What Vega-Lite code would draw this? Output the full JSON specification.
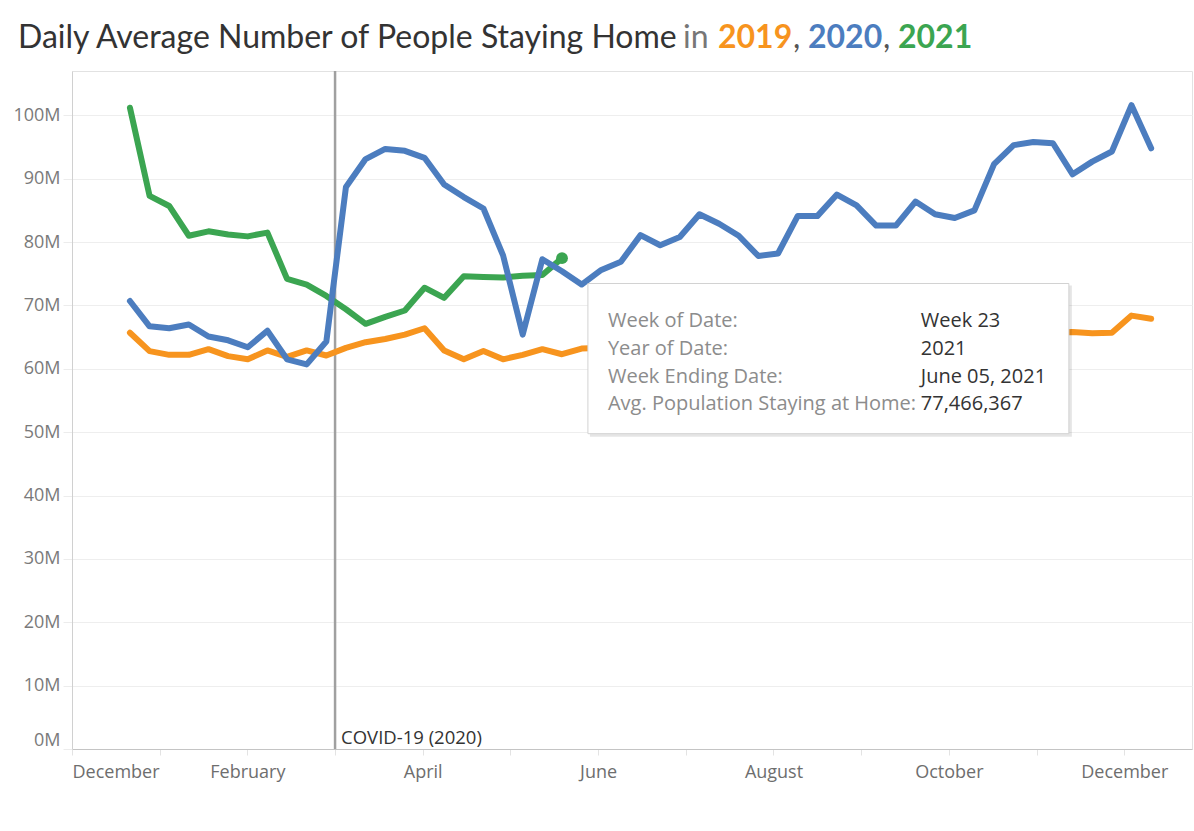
{
  "$schema": "https://vega.github.io/schema/vega-lite/v6.json",
  "background": "white",
  "padding": {"left": 12, "top": 22, "right": 0, "bottom": 0},
  "config": {
    "view": {"stroke": null},
    "font": "Open Sans",
    "title": {"anchor": "start", "offset": 0, "fontSize": 32, "font": "Lato"}
  },
  "datasets": {
    "weekly": [
      {"year": 2021, "week": 1, "avg_home_millions": 101.2},
      {"year": 2021, "week": 2, "avg_home_millions": 87.3},
      {"year": 2021, "week": 3, "avg_home_millions": 85.7},
      {"year": 2021, "week": 4, "avg_home_millions": 81.0},
      {"year": 2021, "week": 5, "avg_home_millions": 81.7},
      {"year": 2021, "week": 6, "avg_home_millions": 81.2},
      {"year": 2021, "week": 7, "avg_home_millions": 80.9},
      {"year": 2021, "week": 8, "avg_home_millions": 81.5},
      {"year": 2021, "week": 9, "avg_home_millions": 74.2},
      {"year": 2021, "week": 10, "avg_home_millions": 73.3},
      {"year": 2021, "week": 11, "avg_home_millions": 71.5},
      {"year": 2021, "week": 12, "avg_home_millions": 69.4},
      {"year": 2021, "week": 13, "avg_home_millions": 67.1},
      {"year": 2021, "week": 14, "avg_home_millions": 68.2},
      {"year": 2021, "week": 15, "avg_home_millions": 69.2},
      {"year": 2021, "week": 16, "avg_home_millions": 72.8},
      {"year": 2021, "week": 17, "avg_home_millions": 71.2},
      {"year": 2021, "week": 18, "avg_home_millions": 74.6},
      {"year": 2021, "week": 19, "avg_home_millions": 74.5},
      {"year": 2021, "week": 20, "avg_home_millions": 74.4},
      {"year": 2021, "week": 21, "avg_home_millions": 74.7},
      {"year": 2021, "week": 22, "avg_home_millions": 74.8},
      {"year": 2021, "week": 23, "avg_home_millions": 77.466367},
      {"year": 2019, "week": 1, "avg_home_millions": 65.7},
      {"year": 2019, "week": 2, "avg_home_millions": 62.8},
      {"year": 2019, "week": 3, "avg_home_millions": 62.2},
      {"year": 2019, "week": 4, "avg_home_millions": 62.2},
      {"year": 2019, "week": 5, "avg_home_millions": 63.1},
      {"year": 2019, "week": 6, "avg_home_millions": 62.0},
      {"year": 2019, "week": 7, "avg_home_millions": 61.5},
      {"year": 2019, "week": 8, "avg_home_millions": 62.9},
      {"year": 2019, "week": 9, "avg_home_millions": 61.9},
      {"year": 2019, "week": 10, "avg_home_millions": 62.9},
      {"year": 2019, "week": 11, "avg_home_millions": 62.1},
      {"year": 2019, "week": 12, "avg_home_millions": 63.3},
      {"year": 2019, "week": 13, "avg_home_millions": 64.2},
      {"year": 2019, "week": 14, "avg_home_millions": 64.7},
      {"year": 2019, "week": 15, "avg_home_millions": 65.4},
      {"year": 2019, "week": 16, "avg_home_millions": 66.4},
      {"year": 2019, "week": 17, "avg_home_millions": 62.9},
      {"year": 2019, "week": 18, "avg_home_millions": 61.5},
      {"year": 2019, "week": 19, "avg_home_millions": 62.8},
      {"year": 2019, "week": 20, "avg_home_millions": 61.5},
      {"year": 2019, "week": 21, "avg_home_millions": 62.2},
      {"year": 2019, "week": 22, "avg_home_millions": 63.1},
      {"year": 2019, "week": 23, "avg_home_millions": 62.3},
      {"year": 2019, "week": 24, "avg_home_millions": 63.2},
      {"year": 2019, "week": 49, "avg_home_millions": 65.8},
      {"year": 2019, "week": 50, "avg_home_millions": 65.6},
      {"year": 2019, "week": 51, "avg_home_millions": 65.7},
      {"year": 2019, "week": 52, "avg_home_millions": 68.4},
      {"year": 2019, "week": 53, "avg_home_millions": 67.9},
      {"year": 2020, "week": 1, "avg_home_millions": 70.7},
      {"year": 2020, "week": 2, "avg_home_millions": 66.7},
      {"year": 2020, "week": 3, "avg_home_millions": 66.4},
      {"year": 2020, "week": 4, "avg_home_millions": 67.0},
      {"year": 2020, "week": 5, "avg_home_millions": 65.1},
      {"year": 2020, "week": 6, "avg_home_millions": 64.5},
      {"year": 2020, "week": 7, "avg_home_millions": 63.4},
      {"year": 2020, "week": 8, "avg_home_millions": 66.0},
      {"year": 2020, "week": 9, "avg_home_millions": 61.5},
      {"year": 2020, "week": 10, "avg_home_millions": 60.7},
      {"year": 2020, "week": 11, "avg_home_millions": 64.3},
      {"year": 2020, "week": 12, "avg_home_millions": 88.7},
      {"year": 2020, "week": 13, "avg_home_millions": 93.1},
      {"year": 2020, "week": 14, "avg_home_millions": 94.7},
      {"year": 2020, "week": 15, "avg_home_millions": 94.4},
      {"year": 2020, "week": 16, "avg_home_millions": 93.3},
      {"year": 2020, "week": 17, "avg_home_millions": 89.1},
      {"year": 2020, "week": 18, "avg_home_millions": 87.1},
      {"year": 2020, "week": 19, "avg_home_millions": 85.3},
      {"year": 2020, "week": 20, "avg_home_millions": 77.9},
      {"year": 2020, "week": 21, "avg_home_millions": 65.4},
      {"year": 2020, "week": 22, "avg_home_millions": 77.3},
      {"year": 2020, "week": 23, "avg_home_millions": 75.4},
      {"year": 2020, "week": 24, "avg_home_millions": 73.3},
      {"year": 2020, "week": 25, "avg_home_millions": 75.6},
      {"year": 2020, "week": 26, "avg_home_millions": 76.9},
      {"year": 2020, "week": 27, "avg_home_millions": 81.1},
      {"year": 2020, "week": 28, "avg_home_millions": 79.5},
      {"year": 2020, "week": 29, "avg_home_millions": 80.8},
      {"year": 2020, "week": 30, "avg_home_millions": 84.4},
      {"year": 2020, "week": 31, "avg_home_millions": 82.9},
      {"year": 2020, "week": 32, "avg_home_millions": 81.0},
      {"year": 2020, "week": 33, "avg_home_millions": 77.8},
      {"year": 2020, "week": 34, "avg_home_millions": 78.2},
      {"year": 2020, "week": 35, "avg_home_millions": 84.1},
      {"year": 2020, "week": 36, "avg_home_millions": 84.1},
      {"year": 2020, "week": 37, "avg_home_millions": 87.5},
      {"year": 2020, "week": 38, "avg_home_millions": 85.8},
      {"year": 2020, "week": 39, "avg_home_millions": 82.6},
      {"year": 2020, "week": 40, "avg_home_millions": 82.6},
      {"year": 2020, "week": 41, "avg_home_millions": 86.4},
      {"year": 2020, "week": 42, "avg_home_millions": 84.4},
      {"year": 2020, "week": 43, "avg_home_millions": 83.8},
      {"year": 2020, "week": 44, "avg_home_millions": 85.0},
      {"year": 2020, "week": 45, "avg_home_millions": 92.3},
      {"year": 2020, "week": 46, "avg_home_millions": 95.3},
      {"year": 2020, "week": 47, "avg_home_millions": 95.8},
      {"year": 2020, "week": 48, "avg_home_millions": 95.6},
      {"year": 2020, "week": 49, "avg_home_millions": 90.7},
      {"year": 2020, "week": 50, "avg_home_millions": 92.7},
      {"year": 2020, "week": 51, "avg_home_millions": 94.3},
      {"year": 2020, "week": 52, "avg_home_millions": 101.6},
      {"year": 2020, "week": 53, "avg_home_millions": 94.8}
    ]
  },
  "spacing": 9,
  "vconcat": [
    {
      "spacing": 0,
      "hconcat": [
        {"width": 1, "height": 1, "data": {"values": []}, "mark": "point",
         "title": {"text": "Daily Average Number of People Staying Home", "color": "#333333", "fontWeight": "normal", "dx": -54}},
        {"width": 1, "height": 1, "data": {"values": []}, "mark": "point",
         "title": {"text": "in", "color": "#777777", "fontWeight": "normal", "dx": 3}},
        {"width": 1, "height": 1, "data": {"values": []}, "mark": "point",
         "title": {"text": "2019", "color": "#F7941E", "fontWeight": "bold", "dx": 9}},
        {"width": 1, "height": 1, "data": {"values": []}, "mark": "point",
         "title": {"text": ",", "color": "#555555", "fontWeight": "normal"}},
        {"width": 1, "height": 1, "data": {"values": []}, "mark": "point",
         "title": {"text": "2020", "color": "#4C7DBF", "fontWeight": "bold", "dx": 7}},
        {"width": 1, "height": 1, "data": {"values": []}, "mark": "point",
         "title": {"text": ",", "color": "#555555", "fontWeight": "normal"}},
        {"width": 1, "height": 1, "data": {"values": []}, "mark": "point",
         "title": {"text": "2021", "color": "#3BA551", "fontWeight": "bold", "dx": 7}}
      ]
    },
    {
      "width": 1120,
      "height": 678,
      "view": {"stroke": "#e2e2e2"},
      "data": {"name": "weekly"},
      "layer": [
        {
          "data": {"values": [{}]},
          "mark": {"type": "rule", "color": "#a0a0a0", "strokeWidth": 2.5},
          "encoding": {"x": {"datum": 11.445, "type": "quantitative"}}
        },
        {
          "data": {"values": [{}]},
          "mark": {"type": "text", "align": "left", "baseline": "bottom", "dx": 6, "dy": -1, "fontSize": 18.5, "color": "#333333", "font": "Open Sans"},
          "encoding": {
            "x": {"datum": 11.445, "type": "quantitative"},
            "y": {"datum": 0, "type": "quantitative"},
            "text": {"value": "COVID-19 (2020)"}
          }
        },
        {
          "mark": {"type": "line", "strokeWidth": 6, "strokeCap": "round", "strokeJoin": "round"},
          "encoding": {
            "x": {
              "field": "week", "type": "quantitative",
              "scale": {"domain": [-1.95, 55.08], "nice": false, "zero": false},
              "axis": {
                "title": null, "grid": false,
                "values": [-1.95, 2.515, 6.98, 11.445, 15.91, 20.375, 24.84, 29.305, 33.77, 38.235, 42.7, 47.165, 51.63],
                "labelExpr": "['December','','February','','April','','June','','August','','October','','December'][round((datum.value + 1.95) / 4.465)]",
                "labelFlush": true, "labelOverlap": false, "labelColor": "#6e6e6e", "labelFontSize": 18, "labelFont": "Open Sans",
                "labelPadding": 8, "tickColor": "#e3e3e3", "tickSize": 6, "domainColor": "#c4c4c4"
              }
            },
            "y": {
              "field": "avg_home_millions", "type": "quantitative",
              "scale": {"domain": [0, 107], "nice": false},
              "axis": {
                "title": null, "values": [0, 10, 20, 30, 40, 50, 60, 70, 80, 90, 100],
                "labelExpr": "datum.value + 'M'", "labelFlush": true, "labelFlushOffset": 0,
                "labelColor": "#7a7a7a", "labelFontSize": 18, "labelFont": "Open Sans", "labelPadding": 3,
                "tickColor": "#ececec", "tickSize": 9, "domainColor": "#d0d0d0",
                "grid": true, "gridColor": "#eeeeee"
              }
            },
            "color": {
              "field": "year", "type": "nominal",
              "scale": {"domain": [2019, 2020, 2021], "range": ["#F7941E", "#4C7DBF", "#3BA551"]},
              "legend": null
            }
          }
        },
        {
          "transform": [{"filter": "datum.year == 2021 && datum.week == 23"}],
          "mark": {"type": "circle", "size": 140, "opacity": 1, "color": "#3BA551"},
          "encoding": {
            "x": {"field": "week", "type": "quantitative"},
            "y": {"field": "avg_home_millions", "type": "quantitative"}
          }
        },
        {
          "data": {"values": [{}]},
          "mark": {"type": "rect", "fill": "#000000", "opacity": 0.1, "xOffset": 2, "x2Offset": 3, "yOffset": 2, "y2Offset": 3},
          "encoding": {
            "x": {"datum": 24.32, "type": "quantitative"},
            "x2": {"datum": 48.81},
            "y": {"datum": 73.46, "type": "quantitative"},
            "y2": {"datum": 49.76}
          }
        },
        {
          "data": {"values": [{}]},
          "mark": {"type": "rect", "fill": "#ffffff", "stroke": "#d2d2d2", "strokeWidth": 1},
          "encoding": {
            "x": {"datum": 24.32, "type": "quantitative"},
            "x2": {"datum": 48.81},
            "y": {"datum": 73.46, "type": "quantitative"},
            "y2": {"datum": 49.76}
          }
        },
        {
          "data": {"values": [{}]},
          "mark": {"type": "text", "align": "left", "baseline": "middle", "fontSize": 20, "lineHeight": 27.8, "color": "#8c8c8c", "font": "Open Sans",
                   "text": ["Week of Date:", "Year of Date:", "Week Ending Date:", "Avg. Population Staying at Home:"]},
          "encoding": {
            "x": {"datum": 25.34, "type": "quantitative"},
            "y": {"datum": 67.53, "type": "quantitative"}
          }
        },
        {
          "data": {"values": [{}]},
          "mark": {"type": "text", "align": "left", "baseline": "middle", "fontSize": 20, "lineHeight": 27.8, "color": "#333333", "font": "Open Sans",
                   "text": ["Week 23", "2021", "June 05, 2021", "77,466,367"]},
          "encoding": {
            "x": {"datum": 41.27, "type": "quantitative"},
            "y": {"datum": 67.53, "type": "quantitative"}
          }
        }
      ]
    }
  ]
}
